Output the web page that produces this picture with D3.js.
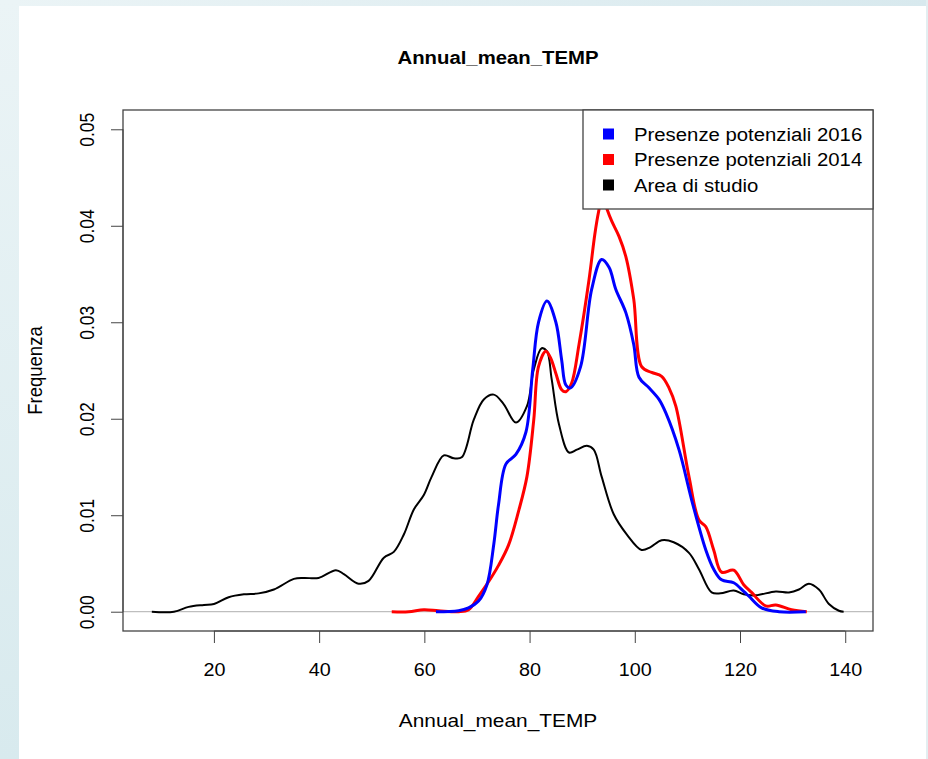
<!DOCTYPE html>
<html>
<head>
<meta charset="utf-8">
<script src="https://cdn.jsdelivr.net/npm/d3@7"></script>
<style>
  html, body { margin: 0; padding: 0; background: #fff; }
  svg { display: block; font-family: "Liberation Sans", Arial, sans-serif; }
</style>
</head>
<body>
<svg id="chart" width="928" height="759"></svg>
<script>
// Density curves: [x, density]
const areaStudio = [
  [8.2, 0], [12.4, 0], [15.2, 0.0005], [18.1, 0.0007], [20.0, 0.0008], [22.8, 0.0015],
  [25.7, 0.0018], [28.5, 0.0019], [31.4, 0.0023], [35.2, 0.0034], [37.1, 0.0035],
  [39.9, 0.0035], [43.2, 0.0043], [44.7, 0.0039], [47.5, 0.0029], [49.4, 0.0032],
  [52.3, 0.0056], [54.2, 0.0062], [56.1, 0.0080], [58.0, 0.0106], [59.9, 0.0121],
  [61.4, 0.0140], [63.7, 0.0162], [65.6, 0.0159], [67.1, 0.0160], [69.4, 0.0199],
  [71.3, 0.0220], [73.2, 0.0225], [75.1, 0.0215], [77.4, 0.0196], [79.5, 0.0213],
  [80.8, 0.0251], [82.3, 0.0273], [83.3, 0.0270], [84.2, 0.0241], [85.6, 0.0194],
  [87.5, 0.0165], [89.0, 0.0168], [90.9, 0.0172], [92.2, 0.0168], [93.7, 0.0140],
  [96.0, 0.0101], [98.5, 0.0080], [101.3, 0.0064], [103.0, 0.0067], [105.1, 0.0074],
  [107.4, 0.0072], [110.3, 0.0061], [112.2, 0.0044], [114.6, 0.0020], [116.3, 0.0019],
  [118.8, 0.0022], [120.7, 0.0018], [123.0, 0.0017], [126.8, 0.0021], [129.3, 0.0020],
  [131.2, 0.0023], [133.1, 0.0029], [135.0, 0.0023], [136.9, 0.0008], [138.8, 0.0001],
  [139.7, 0]
];

const pres2016 = [
  [62.2, 0], [66.5, 0.0001], [68.4, 0.0004], [70.3, 0.0011], [71.9, 0.0028],
  [73.2, 0.0070], [74.1, 0.0111], [75.5, 0.0153], [77.4, 0.0163], [79.3, 0.0186],
  [80.6, 0.0251], [81.7, 0.0300], [83.3, 0.0322], [85.0, 0.0300], [86.1, 0.0261],
  [86.9, 0.0235], [87.8, 0.0232], [89.7, 0.0254], [91.8, 0.0334], [93.7, 0.0365],
  [95.1, 0.0357], [96.4, 0.0334], [98.3, 0.0310], [99.8, 0.0277], [100.8, 0.0243],
  [102.7, 0.0232], [104.6, 0.0220], [105.9, 0.0206], [108.4, 0.0168], [110.8, 0.0116],
  [113.5, 0.0064], [115.0, 0.0044], [116.5, 0.0033], [118.8, 0.0030], [120.7, 0.0021],
  [121.7, 0.0016], [124.1, 0.0004], [127.4, 0], [132.5, 0]
];

const pres2014 = [
  [53.8, 0], [57.0, 0], [59.9, 0.0002], [62.7, 0.0001], [66.5, 0], [68.4, 0.0002],
  [70.3, 0.0016], [72.2, 0.0031], [74.1, 0.0048], [76.0, 0.0069], [77.9, 0.0104],
  [79.5, 0.0140], [80.8, 0.0199], [81.7, 0.0254], [83.1, 0.0270], [84.0, 0.0263],
  [85.0, 0.0247], [86.1, 0.0230], [86.9, 0.0228], [88.0, 0.0237], [89.4, 0.0277],
  [91.3, 0.0344], [92.4, 0.0391], [93.1, 0.0414], [93.9, 0.0432], [94.8, 0.0416],
  [95.6, 0.0405], [97.0, 0.0389], [98.3, 0.0368], [99.8, 0.0324], [101.3, 0.0254],
  [103.2, 0.0248], [105.1, 0.0244], [106.5, 0.0232], [107.8, 0.0213], [110.3, 0.0140],
  [112.2, 0.0095], [113.5, 0.0088], [115.0, 0.0064], [116.5, 0.0041], [118.8, 0.0043],
  [120.7, 0.0028], [122.2, 0.0020], [124.9, 0.0006], [126.8, 0.0007], [129.8, 0.0002],
  [132.7, 0]
];

const xTicks = [20, 40, 60, 80, 100, 120, 140];
const yTicks = [0, 0.01, 0.02, 0.03, 0.04, 0.05];
const legendLabels = ["Presenze potenziali 2016", "Presenze potenziali 2014", "Area di studio"];
const legendColors = ["#0000ff", "#ff0000", "#000000"];

const svg = d3.select('#chart');

// page background strips (the screenshot frame)
const defs = svg.append('defs');
const gLeft = defs.append('linearGradient').attr('id', 'gl').attr('x1', 0).attr('y1', 0).attr('x2', 0).attr('y2', 1);
gLeft.append('stop').attr('offset', 0).attr('stop-color', '#ebf4f6');
gLeft.append('stop').attr('offset', 1).attr('stop-color', '#d8eaee');
const gTop = defs.append('linearGradient').attr('id', 'gt').attr('x1', 0).attr('y1', 0).attr('x2', 1).attr('y2', 0);
gTop.append('stop').attr('offset', 0).attr('stop-color', '#ebf4f6');
gTop.append('stop').attr('offset', 1).attr('stop-color', '#d8e9ee');
svg.append('rect').attr('x', 0).attr('y', 0).attr('width', 928).attr('height', 6).attr('fill', 'url(#gt)');
svg.append('rect').attr('x', 0).attr('y', 0).attr('width', 19).attr('height', 759).attr('fill', 'url(#gl)');
svg.append('rect').attr('x', 926).attr('y', 0).attr('width', 2).attr('height', 759).attr('fill', '#e3eef1');

// plot region
const plot = { left: 123, top: 110, right: 873, bottom: 631 };
const sx = 1.13; // horizontal stretch of the text in the picture

const x = d3.scaleLinear().domain([2.72, 145.28]).range([plot.left, plot.right]);
const y = d3.scaleLinear().domain([-0.002, 0.052]).range([plot.bottom, plot.top]);

// zero reference line
svg.append('line')
  .attr('x1', plot.left).attr('x2', plot.right)
  .attr('y1', y(0)).attr('y2', y(0))
  .attr('stroke', '#bebebe').attr('stroke-width', 1.2);

// curves
const line = d3.line()
  .x(d => x(d[0]))
  .y(d => y(d[1]))
  .curve(d3.curveCatmullRom.alpha(0.5));

svg.append('path').datum(areaStudio)
  .attr('d', line).attr('fill', 'none').attr('stroke', '#000').attr('stroke-width', 2);
svg.append('path').datum(pres2014)
  .attr('d', line).attr('fill', 'none').attr('stroke', '#ff0000').attr('stroke-width', 3);
svg.append('path').datum(pres2016)
  .attr('d', line).attr('fill', 'none').attr('stroke', '#0000ff').attr('stroke-width', 3);

// box
svg.append('rect')
  .attr('x', plot.left).attr('y', plot.top)
  .attr('width', plot.right - plot.left).attr('height', plot.bottom - plot.top)
  .attr('fill', 'none').attr('stroke', '#444').attr('stroke-width', 1.3);

// axes
const xAxis = svg.append('g')
  .attr('transform', `translate(0, ${plot.bottom})`)
  .call(d3.axisBottom(x).tickValues(xTicks).tickSize(12).tickSizeOuter(0).tickFormat(d3.format('d')));
xAxis.select('.domain').attr('d', `M${x(20)},0H${x(140)}`).attr('stroke', '#444');
xAxis.selectAll('.tick line').attr('stroke', '#444');
xAxis.selectAll('.tick text')
  .attr('y', 0).attr('dy', null)
  .attr('transform', `translate(0, 45) scale(${sx}, 1)`)
  .attr('font-size', 17.5).attr('fill', '#000').attr('font-family', '"Liberation Sans", Arial, sans-serif');

const yAxis = svg.append('g')
  .attr('transform', `translate(${plot.left}, 0)`)
  .call(d3.axisLeft(y).tickValues(yTicks).tickSize(12).tickSizeOuter(0).tickFormat(d3.format('.2f')));
yAxis.select('.domain').attr('d', `M0,${y(0)}V${y(0.05)}`).attr('stroke', '#444');
yAxis.selectAll('.tick line').attr('stroke', '#444');
yAxis.selectAll('.tick text')
  .attr('x', 0).attr('dy', null)
  .attr('text-anchor', 'middle')
  .attr('transform', `translate(-29, 0) scale(${sx}, 1) rotate(-90)`)
  .attr('font-size', 17.5).attr('fill', '#000').attr('font-family', '"Liberation Sans", Arial, sans-serif');

// titles
svg.append('text')
  .attr('transform', `translate(${(plot.left + plot.right) / 2}, 64) scale(${sx}, 1)`)
  .attr('text-anchor', 'middle').attr('font-weight', 'bold').attr('font-size', 18)
  .text('Annual_mean_TEMP');

svg.append('text')
  .attr('transform', `translate(${(plot.left + plot.right) / 2}, 727) scale(${sx}, 1)`)
  .attr('text-anchor', 'middle').attr('font-size', 18.5)
  .text('Annual_mean_TEMP');

svg.append('text')
  .attr('transform', `translate(42, ${(plot.top + plot.bottom) / 2}) scale(${sx}, 1) rotate(-90)`)
  .attr('text-anchor', 'middle').attr('font-size', 18.5)
  .text('Frequenza');

// legend
const legend = svg.append('g').attr('transform', 'translate(583, 110)');
legend.append('rect')
  .attr('width', plot.right - 583).attr('height', 99)
  .attr('fill', '#fff').attr('stroke', '#444').attr('stroke-width', 1.3);
legendLabels.forEach((label, i) => {
  const ly = 24 + i * 25.5;
  legend.append('rect')
    .attr('x', 20).attr('y', ly - 5.5).attr('width', 11).attr('height', 11)
    .attr('fill', legendColors[i]);
  legend.append('text')
    .attr('transform', `translate(51, ${ly + 6.5}) scale(${sx}, 1)`)
    .attr('font-size', 18)
    .text(label);
});
</script>
</body>
</html>
